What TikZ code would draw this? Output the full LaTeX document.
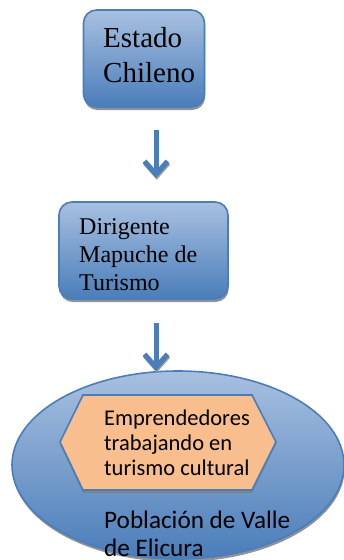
\documentclass[tikz,border=0pt]{standalone}
\usepackage{fontspec}
\setmainfont{Liberation Serif}
\newfontfamily\calibrif{Carlito}
\usetikzlibrary{shapes.geometric,shadows,arrows.meta}
\definecolor{edgeblue}{HTML}{4A7EBB}
\definecolor{topblue}{HTML}{A8C0E0}
\definecolor{botblue}{HTML}{4A7DBA}
\definecolor{hexfill}{HTML}{F9BE8E}
\tikzset{
  softshadow/.style={drop shadow={shadow xshift=0.7pt,shadow yshift=-3pt,fill=black!50,opacity=.85}},
  bluebox/.style={draw=edgeblue,line width=1.6pt,rounded corners=13pt,top color=topblue,bottom color=botblue,inner sep=0pt,softshadow},
  label/.style={inner sep=0pt,align=left,anchor=north west,text=black},
  flow/.style={line width=5pt,-{Straight Barb[length=13pt,width=23pt,line width=5pt]}}
}
\begin{document}
\begin{tikzpicture}[x=1pt,y=-1pt]
\useasboundingbox (0,0) rectangle (344,560);
\fill[white] (0,0) rectangle (344,560);
\node[bluebox,minimum width=121pt,minimum height=97pt] (estado) at (144,58.5) {};
\node[bluebox,minimum width=169pt,minimum height=97pt] (dirigente) at (143.5,250.5) {};
\node[ellipse,draw=edgeblue,line width=1.6pt,top color=topblue,bottom color=botblue,minimum width=332pt,minimum height=188pt,inner sep=0pt,softshadow] (poblacion) at (178,465) {};
\coordinate (a1) at (156,130);
\coordinate (b1) at (156,178);
\coordinate (a2) at (156,323);
\coordinate (b2) at (156,371);
\draw[flow,draw=black!40] ([shift={(0.7,1.7)}]a1) -- ([shift={(0.7,1.7)}]b1);
\draw[flow,draw=black!40] ([shift={(0.7,1.7)}]a2) -- ([shift={(0.7,1.7)}]b2);
\draw[flow,draw=edgeblue] (a1) -- (b1);
\draw[flow,draw=edgeblue] (a2) -- (b2);
\path[fill=black!50,opacity=.85] (83,397.5)--(252,397.5)--(276,444.5)--(252,493)--(83,493)--(60,444.5)--cycle;
\draw[draw=edgeblue,line width=1.6pt,fill=hexfill,line join=miter] (83,395)--(252,395)--(276,442)--(252,490)--(83,490)--(60,442)--cycle;
\node[label,font=\fontsize{29}{35}\selectfont] (t1) at (103,27) {Estado\\Chileno};
\node[label,font=\fontsize{24}{28}\selectfont] (t2) at (79,218) {Dirigente\\Mapuche de\\Turismo};
\node[label,font=\calibrif\fontsize{22.5}{25}\selectfont] (t3) at (104,410) {Emprendedores\\trabajando en\\turismo cultural};
\node[label,font=\calibrif\fontsize{25.2}{28}\selectfont] (t4) at (104,510.5) {Población de Valle\\de Elicura};
\end{tikzpicture}
\end{document}
